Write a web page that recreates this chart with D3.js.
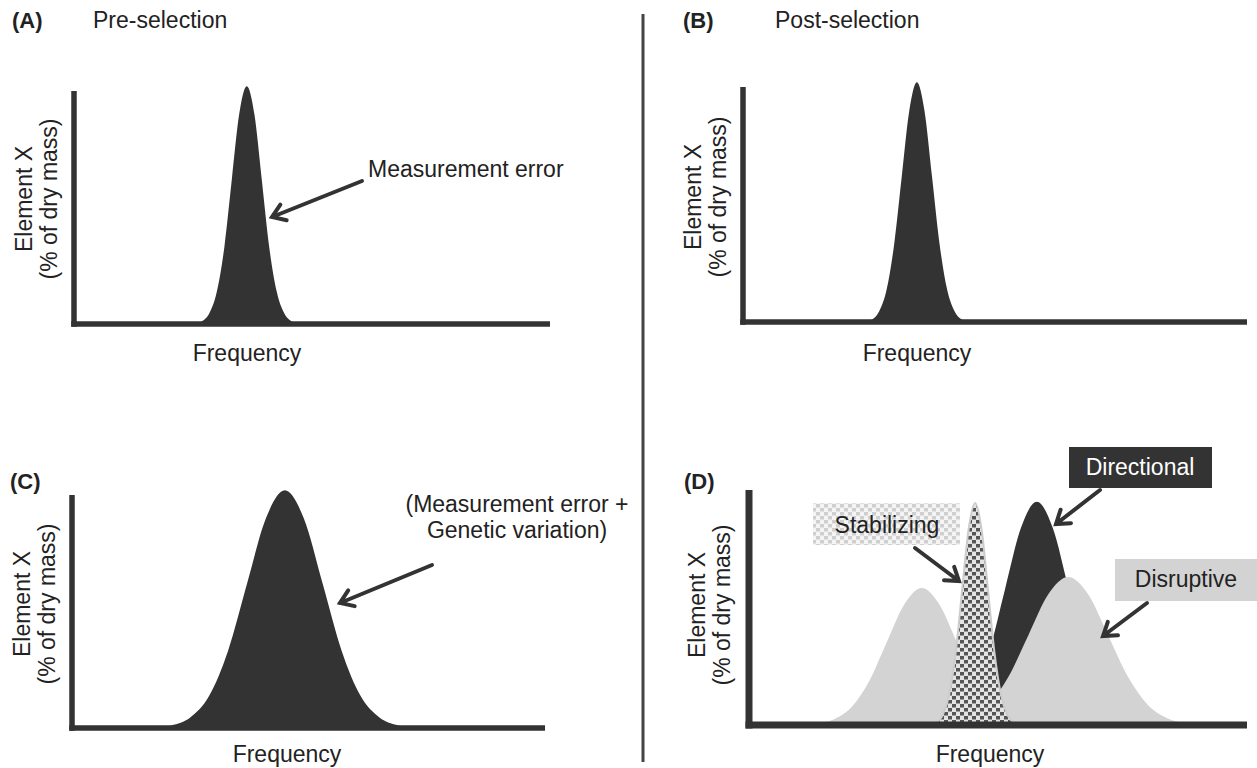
<!DOCTYPE html>
<html>
<head>
<meta charset="utf-8">
<script src="https://cdn.jsdelivr.net/npm/d3@7/dist/d3.min.js"></script>
<style>
  body { margin: 0; background: #fff; }
  text { font-family: "Liberation Sans", Arial, sans-serif; fill: #222; }
</style>
</head>
<body>
<div id="chart"></div>
<script>
// Values: x positions (0-100 along each x axis) and curve heights (0-100 up the y axis)

// (A) pre-selection, measurement error only
const xA = [25.3, 26.85, 28.4, 30.0, 31.6, 33.15, 34.7, 36.3, 37.9, 39.45, 41.0, 42.6, 44.2, 45.75, 47.3];
const yA = [0, 1.1, 4.5, 13.8, 33.2, 61.9, 90, 102, 90, 61.9, 33.2, 13.8, 4.5, 1.1, 0];

// (B) post-selection, measurement error only
const xB = [24.1, 25.6, 27.0, 28.5, 30.0, 31.5, 33.0, 34.5, 36.0, 37.5, 39.0, 40.5, 42.0, 43.4, 44.9];
const yB = [0, 1.1, 4.5, 13.8, 33.2, 61.9, 90, 102, 90, 61.9, 33.2, 13.8, 4.5, 1.1, 0];

// (C) measurement error + genetic variation
const xC = [17, 21, 25, 29, 33, 37, 41, 45, 49, 53, 57, 61, 65, 69, 73];
const yC = [0, 1.1, 4.5, 13.8, 33.2, 61.9, 90, 102, 90, 61.9, 33.2, 13.8, 4.5, 1.1, 0];

// (D) after the three kinds of selection
const xDirectional = [35.4, 38.6, 41.8, 45.0, 48.2, 51.4, 54.6, 57.8, 61.0, 64.2, 67.4, 70.6, 73.8, 77.0, 80.2];
const yDirectional = [0, 1, 4.2, 12.8, 30.9, 57.7, 83.8, 95, 83.8, 57.7, 30.9, 12.8, 4.2, 1, 0];

const xDisruptiveLow = [10.2, 13.7, 17.2, 20.7, 24.2, 27.7, 31.2, 34.7, 38.2, 41.7, 45.2, 48.7, 52.2, 55.7, 59.2];
const yDisruptiveLow = [0, 0.6, 2.6, 7.9, 18.9, 35.4, 51.4, 58.3, 51.4, 35.4, 18.9, 7.9, 2.6, 0.6, 0];

const xDisruptiveHigh = [36.1, 40.1, 44.1, 48.1, 52.1, 56.1, 60.1, 64.1, 68.1, 72.1, 76.1, 80.1, 84.1, 88.1, 92.1];
const yDisruptiveHigh = [0, 0.7, 2.8, 8.5, 20.5, 38.2, 55.6, 63, 55.6, 38.2, 20.5, 8.5, 2.8, 0.7, 0];

const xStabilizing = [36.3, 37.6, 38.9, 40.2, 41.5, 42.8, 44.1, 45.4, 46.7, 48.0, 49.3, 50.6, 51.9, 53.2, 54.5];
const yStabilizing = [0, 1, 4.2, 12.8, 30.7, 57.4, 83.3, 94.5, 83.3, 57.4, 30.7, 12.8, 4.2, 1, 0];

const panelLetters = ['(A)', '(B)', '(C)', '(D)'];
const panelTitles = ['Pre-selection', 'Post-selection', '', ''];
const yLabelLines = ['Element X', '(% of dry mass)'];
const xLabel = 'Frequency';

const DARK = '#333333';
const LIGHT = '#d3d3d3';

const width = 1257, height = 768;

const svg = d3.select('#chart')
  .append('svg')
  .attr('width', width)
  .attr('height', height);

// patterns for the stabilizing curve and its label
const defs = svg.append('defs');
const checker = defs.append('pattern')
  .attr('id', 'checker')
  .attr('patternUnits', 'userSpaceOnUse')
  .attr('width', 8).attr('height', 8);
checker.append('rect').attr('width', 8).attr('height', 8).attr('fill', '#e4e4e4');
checker.append('rect').attr('x', 0).attr('y', 0).attr('width', 4).attr('height', 3.5).attr('fill', '#555');
checker.append('rect').attr('x', 4).attr('y', 4).attr('width', 4).attr('height', 3.5).attr('fill', '#555');

const checkerLight = defs.append('pattern')
  .attr('id', 'checkerLight')
  .attr('patternUnits', 'userSpaceOnUse')
  .attr('width', 8).attr('height', 8);
checkerLight.append('rect').attr('width', 8).attr('height', 8).attr('fill', '#f4f4f4');
checkerLight.append('rect').attr('x', 0).attr('y', 0).attr('width', 4).attr('height', 3.5).attr('fill', '#cfcfcf');
checkerLight.append('rect').attr('x', 4).attr('y', 4).attr('width', 4).attr('height', 3.5).attr('fill', '#cfcfcf');

// panel frames in page pixels
const panels = [
  { x: [74, 550],  y: [324, 91],  axisW: 5.5, letter: [12, 28],  title: [93, 28],  freq: [247, 361], ylab: [32, 199] },
  { x: [743, 1247], y: [322, 87], axisW: 5.5, letter: [683, 28], title: [775, 28], freq: [917, 361], ylab: [701, 197] },
  { x: [72, 545],  y: [728, 495], axisW: 5.5, letter: [10, 489], title: null,      freq: [287, 762], ylab: [30, 604] },
  { x: [749, 1247], y: [725, 490], axisW: 7,  letter: [684, 489], title: null,     freq: [990, 762], ylab: [705, 605] }
];

panels.forEach(p => {
  p.xs = d3.scaleLinear().domain([0, 100]).range(p.x);
  p.ys = d3.scaleLinear().domain([0, 100]).range(p.y);
});

function curve(xs, ys) {
  return d3.zip(xs, ys);
}

function drawArea(p, data, fill, stroke) {
  const area = d3.area()
    .x(d => p.xs(d[0]))
    .y0(p.ys(0))
    .y1(d => p.ys(d[1]))
    .curve(d3.curveMonotoneX);
  svg.append('path')
    .datum(data)
    .attr('d', area)
    .attr('fill', fill)
    .attr('stroke', stroke || 'none')
    .attr('stroke-width', stroke ? 2 : 0);
}

function drawAxes(p) {
  const gx = svg.append('g')
    .attr('transform', `translate(0,${p.y[0]})`)
    .call(d3.axisBottom(p.xs).ticks(0).tickSize(0).tickSizeOuter(0));
  gx.select('.domain')
    .attr('stroke', DARK)
    .attr('stroke-width', p.axisW)
    .attr('d', `M${p.x[0] - p.axisW / 2},0H${p.x[1]}`);
  gx.selectAll('text').remove();

  const gy = svg.append('g')
    .attr('transform', `translate(${p.x[0]},0)`)
    .call(d3.axisLeft(p.ys).ticks(0).tickSize(0).tickSizeOuter(0));
  gy.select('.domain')
    .attr('stroke', DARK)
    .attr('stroke-width', p.axisW)
    .attr('d', `M0,${p.y[1]}V${p.y[0] + p.axisW / 2}`);
  gy.selectAll('text').remove();
}

function drawLabels(p, i) {
  svg.append('text')
    .attr('x', p.letter[0]).attr('y', p.letter[1])
    .attr('font-size', 22).attr('font-weight', 'bold')
    .text(panelLetters[i]);
  if (p.title) {
    svg.append('text')
      .attr('x', p.title[0]).attr('y', p.title[1])
      .attr('font-size', 23)
      .text(panelTitles[i]);
  }
  svg.append('text')
    .attr('x', p.freq[0]).attr('y', p.freq[1])
    .attr('text-anchor', 'middle')
    .attr('font-size', 23)
    .text(xLabel);
  yLabelLines.forEach((line, k) => {
    svg.append('text')
      .attr('transform', `translate(${p.ylab[0] + k * 25},${p.ylab[1]}) rotate(-90)`)
      .attr('text-anchor', 'middle')
      .attr('font-size', 23)
      .text(line);
  });
}

function arrow(x1, y1, x2, y2) {
  const a = Math.atan2(y2 - y1, x2 - x1);
  const len = 15, spread = 0.6;
  const h1 = [x2 - len * Math.cos(a - spread), y2 - len * Math.sin(a - spread)];
  const h2 = [x2 - len * Math.cos(a + spread), y2 - len * Math.sin(a + spread)];
  svg.append('path')
    .attr('d', `M${x1},${y1}L${x2},${y2}M${h1[0]},${h1[1]}L${x2},${y2}L${h2[0]},${h2[1]}`)
    .attr('fill', 'none')
    .attr('stroke', DARK)
    .attr('stroke-width', 4)
    .attr('stroke-linecap', 'round')
    .attr('stroke-linejoin', 'miter');
}

// divider between left and right columns
svg.append('line')
  .attr('x1', 643).attr('x2', 643)
  .attr('y1', 14).attr('y2', 762)
  .attr('stroke', '#444')
  .attr('stroke-width', 3);

// curves
drawArea(panels[0], curve(xA, yA), DARK);
drawArea(panels[1], curve(xB, yB), DARK);
drawArea(panels[2], curve(xC, yC), DARK);
drawArea(panels[3], curve(xDirectional, yDirectional), DARK);
drawArea(panels[3], curve(xDisruptiveLow, yDisruptiveLow), LIGHT);
drawArea(panels[3], curve(xDisruptiveHigh, yDisruptiveHigh), LIGHT);
drawArea(panels[3], curve(xStabilizing, yStabilizing), 'url(#checker)', '#cdcdcd');

panels.forEach((p, i) => {
  drawAxes(p);
  drawLabels(p, i);
});

// (A) annotation
svg.append('text').attr('x', 368).attr('y', 177).attr('font-size', 23).text('Measurement error');
arrow(362, 181, 272, 217);

// (C) annotation
svg.append('text').attr('x', 517).attr('y', 512).attr('text-anchor', 'middle').attr('font-size', 23).text('(Measurement error +');
svg.append('text').attr('x', 517).attr('y', 538).attr('text-anchor', 'middle').attr('font-size', 23).text('Genetic variation)');
arrow(432, 565, 340, 603);

// (D) label boxes
svg.append('rect').attr('x', 1069).attr('y', 447).attr('width', 143).attr('height', 41).attr('fill', DARK);
svg.append('text').attr('x', 1140).attr('y', 475).attr('text-anchor', 'middle').attr('font-size', 23)
  .style('fill', '#fff').text('Directional');
arrow(1100, 490, 1056, 524);

svg.append('rect').attr('x', 813).attr('y', 503).attr('width', 147).attr('height', 42).attr('fill', 'url(#checkerLight)');
svg.append('text').attr('x', 887).attr('y', 533).attr('text-anchor', 'middle').attr('font-size', 23).text('Stabilizing');
arrow(915, 548, 959, 581);

svg.append('rect').attr('x', 1115).attr('y', 559).attr('width', 142).attr('height', 42).attr('fill', LIGHT);
svg.append('text').attr('x', 1186).attr('y', 587).attr('text-anchor', 'middle').attr('font-size', 23).text('Disruptive');
arrow(1147, 603, 1103, 636);
</script>
</body>
</html>
